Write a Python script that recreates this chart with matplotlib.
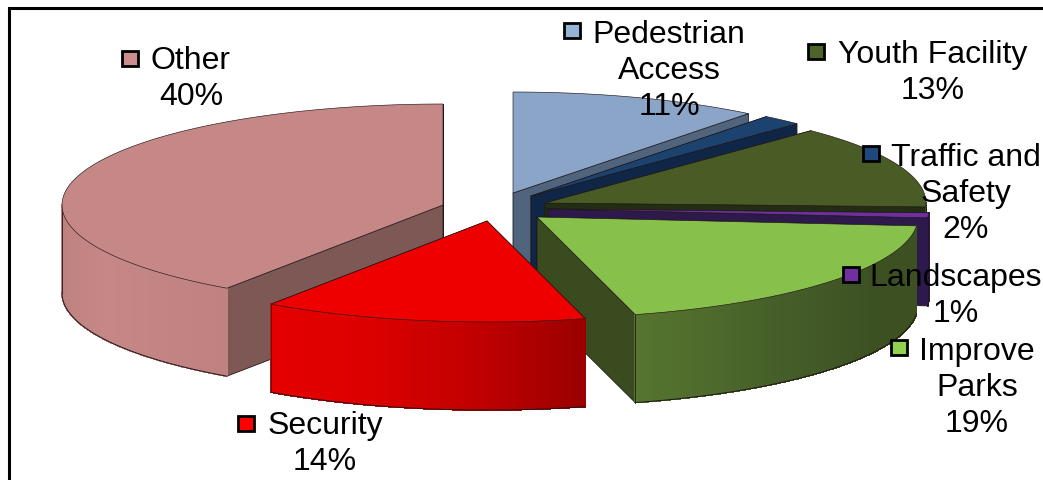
import numpy as np
import matplotlib
matplotlib.use("Agg")
import matplotlib.pyplot as plt
from matplotlib.patches import Rectangle
from matplotlib.colors import to_rgb

plt.rcParams['font.family'] = ['Liberation Sans', 'DejaVu Sans']

# data (clockwise from 12 o'clock); shares, they round to the printed labels
categories = ["Pedestrian\nAccess", "Traffic and\nSafety", "Youth Facility", "Landscapes", "Improve\nParks", "Security", "Other"]
shares = [10.6, 1.7, 13.3, 0.8, 19.45, 13.75, 40.4]
printed_pct = [11, 2, 13, 1, 19, 14, 40]

# styles
top_colors = ["#8aa5c8", "#1c4270", "#4a5c26", "#6f2f9f", "#88c04c", "#ee0000", "#c68886"]
key_colors = ["#95b3d7", "#1f497d", "#4f6228", "#7030a0", "#92d050", "#ff0000", "#cc8e8c"]
face_colors = ["#50647d", "#0f2646", "#232d14", "#2d194b", "#3a4b20", "#6e0000", "#7d5855"]
wall_stops = [
    ["#50647d", "#50647d"],
    ["#0f2646", "#0f2646"],
    ["#3a4b20", "#3a4b20"],
    ["#2d194b", "#2d194b"],
    ["#3c5021", "#3c5021", "#465f2a", "#56752f"],
    ["#9a0000", "#c00000", "#dd0000", "#e40000"],
    ["#c08280", "#c68886", "#bb7f7c"],
]
centers = [(513, 193), (531, 196), (545, 203), (548, 209), (537, 217), (487, 221), (443, 205)]
draw_order = [0, 1, 2, 3, 4, 6, 5]
RX, RY, DEPTH = 381, 101, 88
EDGE = "#201818"

label_centers = [(669, 71), (966, 194), (933, 73), (956, 296), (977, 388), (325, 444), (191, 79)]
key_centers = [(572, 30), (871, 153), (816, 51), (851, 274), (899, 347), (246, 423), (130, 58)]

fig = plt.figure(figsize=(10.43, 4.8), dpi=100)
ax = fig.add_axes([0, 0, 1, 1])
ax.set_xlim(0, 1043)
ax.set_ylim(480, 0)
ax.axis("off")

edges = -90 + np.concatenate([[0], np.cumsum(shares)]) * 3.6


def arc(c, t0, t1, n=120):
    t = np.radians(np.linspace(t0, t1, n))
    return c[0] + RX * np.cos(t), c[1] + RY * np.sin(t)


def interp(stops, f):
    rgb = np.array([to_rgb(s) for s in stops])
    pos = np.linspace(0, 1, len(stops))
    return [float(np.interp(f, pos, rgb[:, k])) for k in range(3)]


z = 1
for i in draw_order:
    t0, t1 = edges[i], edges[i + 1]
    c = centers[i]
    # radial cut faces
    for t in (t0, t1):
        x, y = arc(c, t, t, 1)
        ax.fill([c[0], x[0], x[0], c[0]], [c[1], y[0], y[0] + DEPTH, c[1] + DEPTH],
                fc=face_colors[i], ec=EDGE, lw=0.6, zorder=z)
    # outer wall, front part only, with a shaded gradient
    a0, a1 = max(t0, 0), min(t1, 180)
    if a1 > a0:
        n = max(int((a1 - a0) * 2), 2)
        ts = np.linspace(a0, a1, n + 1)
        for k in range(n):
            x, y = arc(c, ts[k], ts[k + 1], 4)
            col = interp(wall_stops[i], (k + 0.5) / n)
            ax.fill(np.r_[x, x[::-1]], np.r_[y, y[::-1] + DEPTH], fc=col, ec=col, lw=0.6,
                    antialiased=False, zorder=z)
        x, y = arc(c, a0, a1)
        ax.plot(x, y + DEPTH, color=EDGE, lw=0.7, zorder=z)
        ax.plot([x[-1], x[-1]], [y[-1], y[-1] + DEPTH], color=EDGE, lw=0.6, zorder=z)
    # top
    x, y = arc(c, t0, t1)
    ax.fill(np.r_[c[0], x], np.r_[c[1], y], fc=top_colors[i], ec=EDGE, lw=0.45, zorder=z)
    z += 1

# labels and legend keys
for i, name in enumerate(categories):
    ax.text(*label_centers[i], f"{name}\n{printed_pct[i]}%", ha="center", va="center",
            fontsize=23, linespacing=1.24, color="black", zorder=50)
    kx, ky = key_centers[i]
    ax.add_patch(Rectangle((kx - 8, ky - 7.5), 16, 15, fc=key_colors[i], ec="black", lw=2, zorder=51))

# frame: only the left and top rules fall inside the picture
ax.plot([9, 9, 1043], [480, 7.5, 7.5], color="black", lw=2.2, solid_joinstyle="miter", zorder=60)

fig.savefig("out.png", dpi=100)
